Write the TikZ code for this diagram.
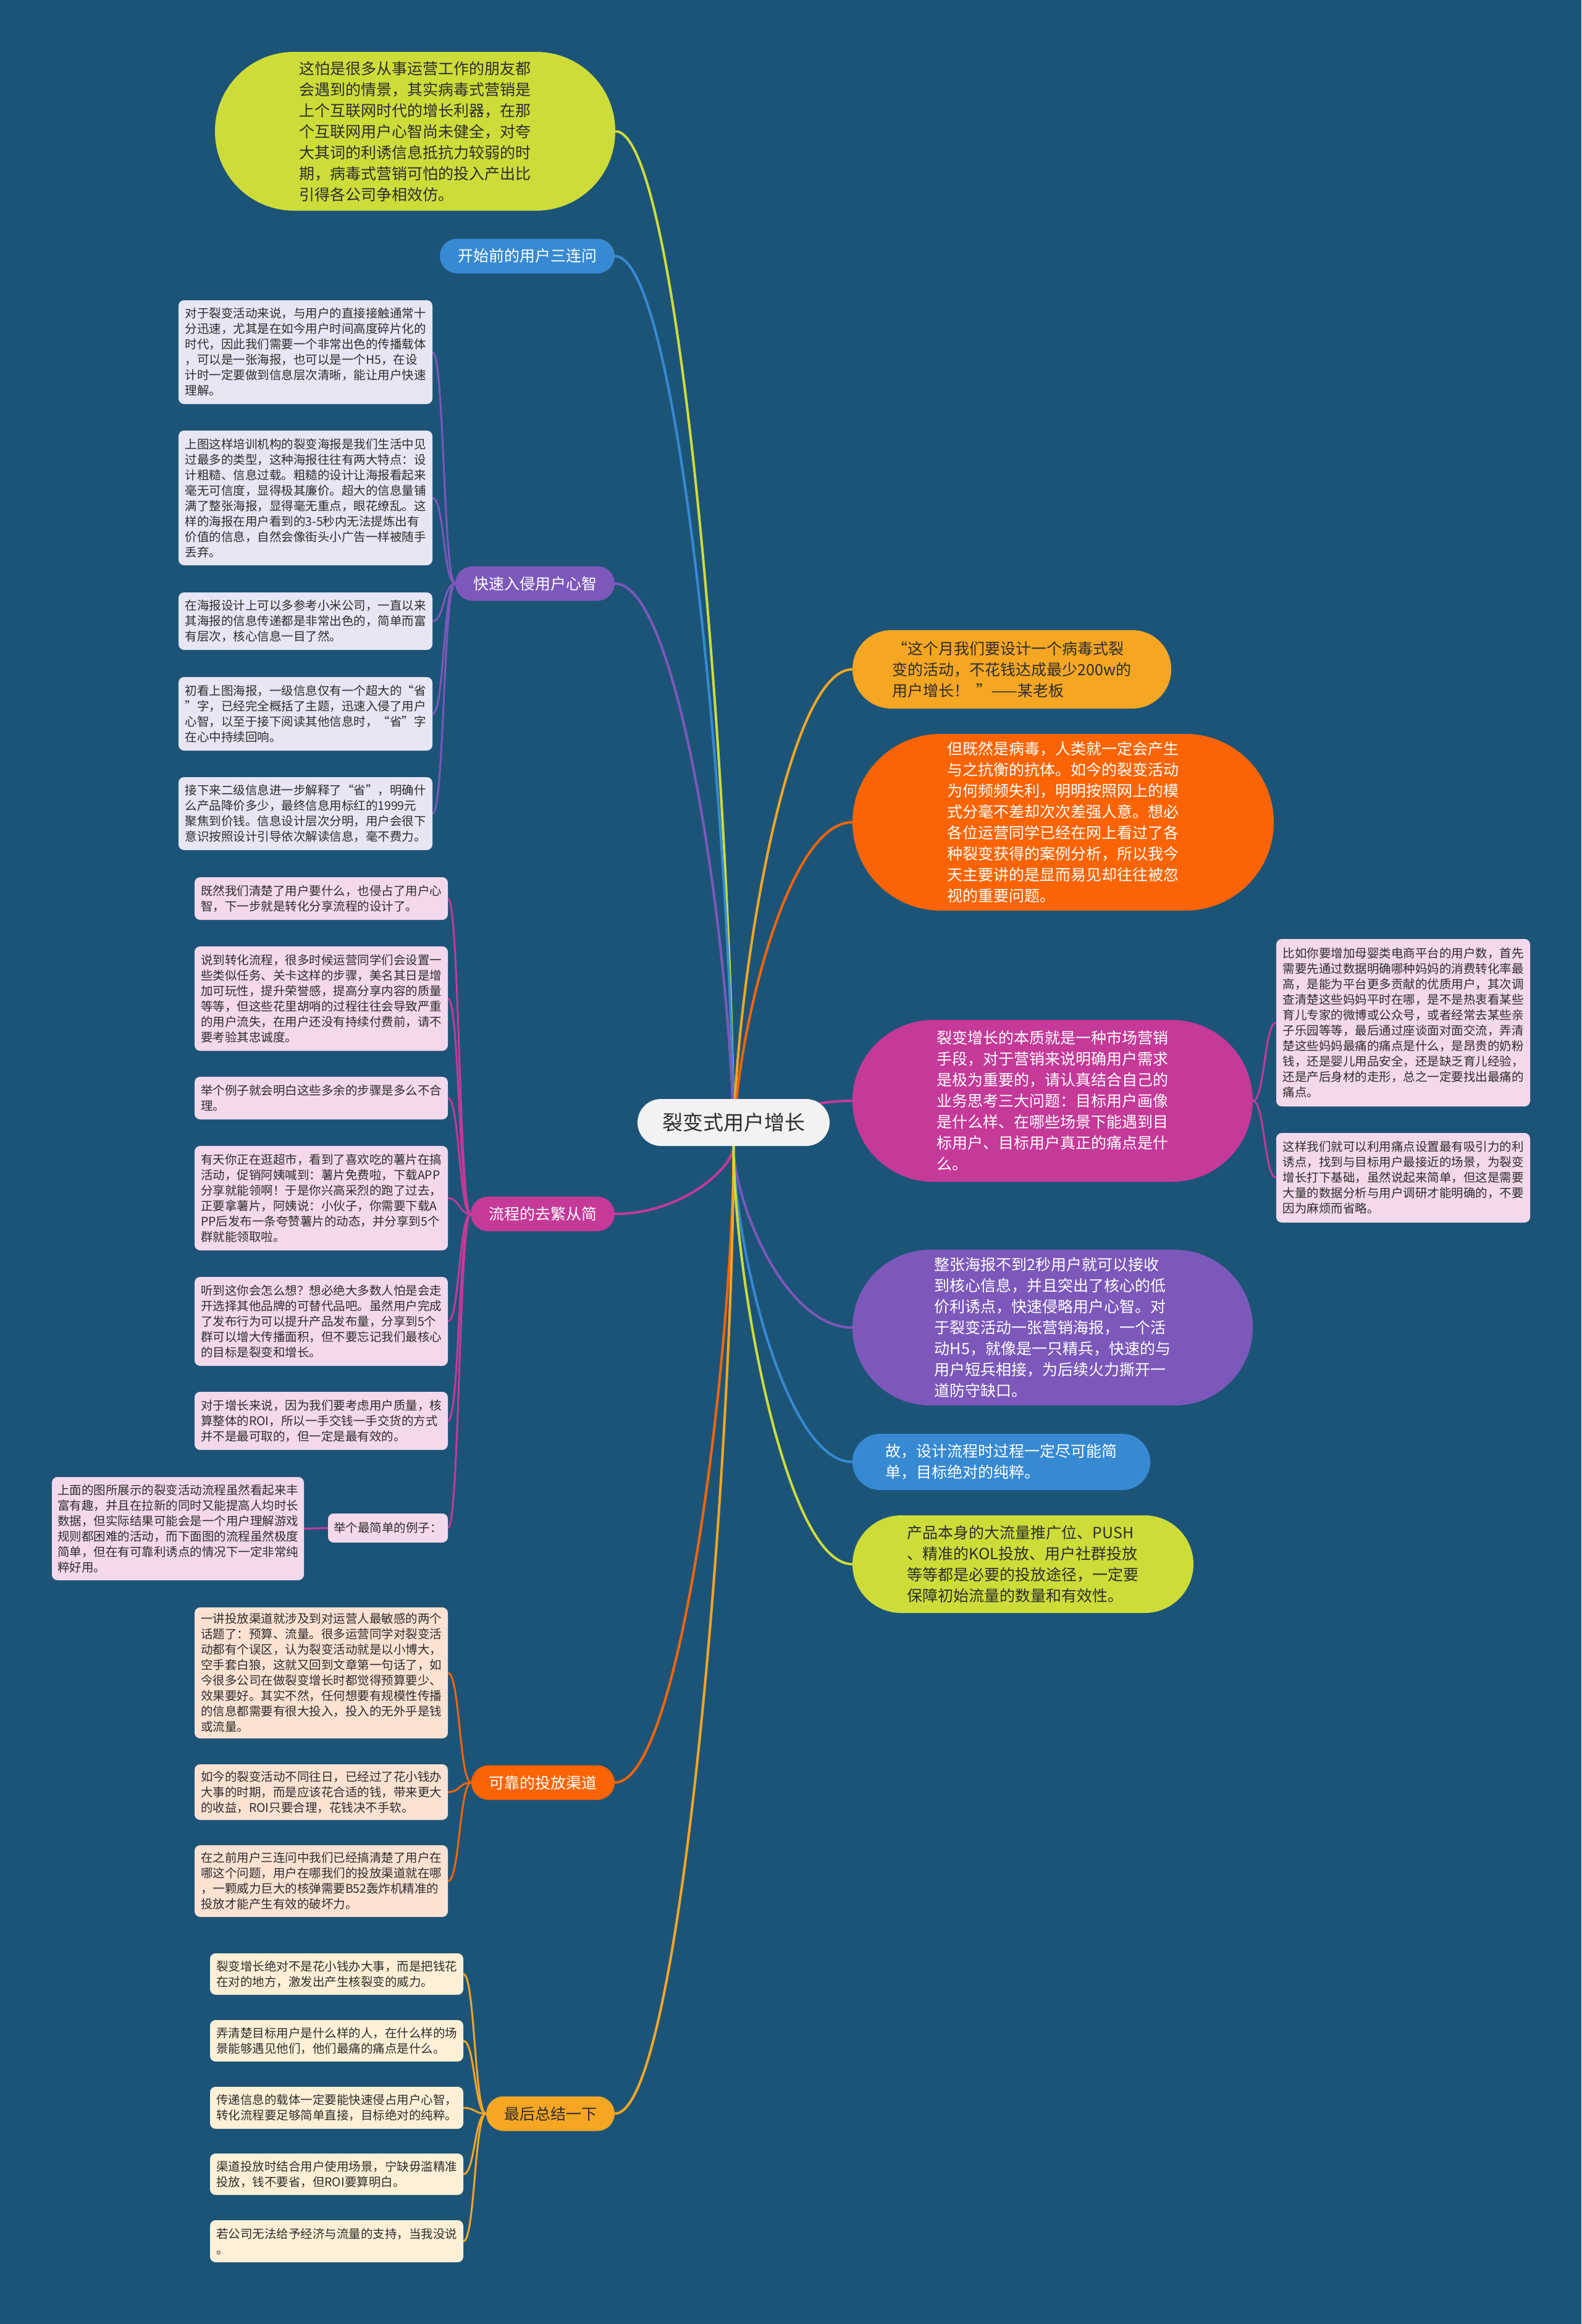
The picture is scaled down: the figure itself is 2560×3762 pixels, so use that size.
\documentclass[tikz,border=0pt]{standalone}
\usepackage{fontspec}
\setmainfont{Noto Sans CJK SC}
\pgfdeclarelayer{edges}
\pgfsetlayers{edges,main}
\definecolor{bgc}{RGB}{28,84,120}
\definecolor{txt}{RGB}{45,45,45}
\definecolor{rootc}{RGB}{242,242,242}
\definecolor{cLime}{RGB}{206,220,58}
\definecolor{cBlue}{RGB}{55,138,210}
\definecolor{cPurple}{RGB}{124,88,186}
\definecolor{cMagenta}{RGB}{197,57,152}
\definecolor{cOrange}{RGB}{250,100,5}
\definecolor{cGold}{RGB}{245,166,35}
\definecolor{fLav}{RGB}{232,229,244}
\definecolor{fPink}{RGB}{244,216,236}
\definecolor{fPeach}{RGB}{252,226,210}
\definecolor{fCream}{RGB}{254,240,214}
\newcommand{\setfs}[2]{\fontsize{#1}{#2}\selectfont}
\tikzset{
  leaf/.style={rectangle, rounded corners=9pt, inner sep=0pt, align=left, text=txt, font=\setfs{19.5}{25}},
  pill/.style={rectangle, rounded corners=28pt, inner sep=0pt, minimum height=56pt, text=white, font=\setfs{25}{30}},
  bub/.style={rectangle, inner sep=0pt, align=left, font=\setfs{25}{34}},
  mainline/.style={line width=4pt},
  subline/.style={line width=3pt},
}
\begin{document}
\begin{tikzpicture}[x=1pt,y=-1pt]
\useasboundingbox (0,0) rectangle (2560,3762);

% ---------- root ----------
\node[rectangle, rounded corners=38pt, fill=rootc, minimum width=311pt, minimum height=76pt, inner sep=0pt, text=txt, font=\setfs{33}{40}] (root) at (1187.5,1817) {裂变式用户增长};

% ---------- left main nodes ----------
\node[bub, fill=cLime, text=txt, rounded corners=128pt, minimum width=648pt, minimum height=257pt] (intro) at (672,212.5) {这怕是很多从事运营工作的朋友都\\会遇到的情景，其实病毒式营销是\\上个互联网时代的增长利器，在那\\个互联网用户心智尚未健全，对夸\\大其词的利诱信息抵抗力较弱的时\\期，病毒式营销可怕的投入产出比\\引得各公司争相效仿。};

\node[pill, fill=cBlue, minimum width=283pt] (q3) at (853.5,414.5) {开始前的用户三连问};
\node[pill, fill=cPurple, minimum width=258pt] (mind) at (866,944.5) {快速入侵用户心智};
\node[pill, fill=cMagenta, minimum width=233pt] (flow) at (878.5,1965) {流程的去繁从简};
\node[pill, fill=cOrange, minimum width=232pt] (chan) at (879,2885.5) {可靠的投放渠道};
\node[pill, fill=cGold, text=txt, minimum width=208pt] (sum) at (891,3421.5) {最后总结一下};

% ---------- 快速入侵用户心智 children ----------
\node[leaf, fill=fLav, minimum width=411pt, minimum height=168pt] (m1) at (494.5,570) {对于裂变活动来说，与用户的直接接触通常十\\分迅速，尤其是在如今用户时间高度碎片化的\\时代，因此我们需要一个非常出色的传播载体\\，可以是一张海报，也可以是一个H5，在设\\计时一定要做到信息层次清晰，能让用户快速\\理解。};
\node[leaf, fill=fLav, minimum width=411pt, minimum height=218pt] (m2) at (494.5,806) {上图这样培训机构的裂变海报是我们生活中见\\过最多的类型，这种海报往往有两大特点：设\\计粗糙、信息过载。粗糙的设计让海报看起来\\毫无可信度，显得极其廉价。超大的信息量铺\\满了整张海报，显得毫无重点，眼花缭乱。这\\样的海报在用户看到的3-5秒内无法提炼出有\\价值的信息，自然会像街头小广告一样被随手\\丢弃。};
\node[leaf, fill=fLav, minimum width=411pt, minimum height=93pt] (m3) at (494.5,1005.5) {在海报设计上可以多参考小米公司，一直以来\\其海报的信息传递都是非常出色的，简单而富\\有层次，核心信息一目了然。};
\node[leaf, fill=fLav, minimum width=411pt, minimum height=119pt] (m4) at (494.5,1155.5) {初看上图海报，一级信息仅有一个超大的“省\\”字，已经完全概括了主题，迅速入侵了用户\\心智，以至于接下阅读其他信息时，“省”字\\在心中持续回响。};
\node[leaf, fill=fLav, minimum width=411pt, minimum height=118pt] (m5) at (494.5,1317) {接下来二级信息进一步解释了“省”，明确什\\么产品降价多少，最终信息用标红的1999元\\聚焦到价钱。信息设计层次分明，用户会很下\\意识按照设计引导依次解读信息，毫不费力。};

% ---------- 流程的去繁从简 children ----------
\node[leaf, fill=fPink, minimum width=410pt, minimum height=69pt] (f1) at (520,1454.5) {既然我们清楚了用户要什么，也侵占了用户心\\智，下一步就是转化分享流程的设计了。};
\node[leaf, fill=fPink, minimum width=410pt, minimum height=169pt] (f2) at (520,1616.5) {说到转化流程，很多时候运营同学们会设置一\\些类似任务、关卡这样的步骤，美名其日是增\\加可玩性，提升荣誉感，提高分享内容的质量\\等等，但这些花里胡哨的过程往往会导致严重\\的用户流失，在用户还没有持续付费前，请不\\要考验其忠诚度。};
\node[leaf, fill=fPink, minimum width=410pt, minimum height=69pt] (f3) at (520,1777.5) {举个例子就会明白这些多余的步骤是多么不合\\理。};
\node[leaf, fill=fPink, minimum width=410pt, minimum height=169pt] (f4) at (520,1939.5) {有天你正在逛超市，看到了喜欢吃的薯片在搞\\活动，促销阿姨喊到：薯片免费啦，下载APP\\分享就能领啊！于是你兴高采烈的跑了过去，\\正要拿薯片，阿姨说：小伙子，你需要下载A\\PP后发布一条夸赞薯片的动态，并分享到5个\\群就能领取啦。};
\node[leaf, fill=fPink, minimum width=410pt, minimum height=144pt] (f5) at (520,2139) {听到这你会怎么想？想必绝大多数人怕是会走\\开选择其他品牌的可替代品吧。虽然用户完成\\了发布行为可以提升产品发布量，分享到5个\\群可以增大传播面积，但不要忘记我们最核心\\的目标是裂变和增长。};
\node[leaf, fill=fPink, minimum width=410pt, minimum height=94pt] (f6) at (520,2300) {对于增长来说，因为我们要考虑用户质量，核\\算整体的ROI，所以一手交钱一手交货的方式\\并不是最可取的，但一定是最有效的。};
\node[leaf, fill=fPink, minimum width=194pt, minimum height=47pt] (f7) at (628,2473.5) {举个最简单的例子：};
\node[leaf, fill=fPink, minimum width=408pt, minimum height=167pt] (f8) at (288,2474.5) {上面的图所展示的裂变活动流程虽然看起来丰\\富有趣，并且在拉新的同时又能提高人均时长\\数据，但实际结果可能会是一个用户理解游戏\\规则都困难的活动，而下面图的流程虽然极度\\简单，但在有可靠利诱点的情况下一定非常纯\\粹好用。};

% ---------- 可靠的投放渠道 children ----------
\node[leaf, fill=fPeach, minimum width=410pt, minimum height=212pt] (c1) at (520,2708) {一讲投放渠道就涉及到对运营人最敏感的两个\\话题了：预算、流量。很多运营同学对裂变活\\动都有个误区，认为裂变活动就是以小博大，\\空手套白狼，这就又回到文章第一句话了，如\\今很多公司在做裂变增长时都觉得预算要少、\\效果要好。其实不然，任何想要有规模性传播\\的信息都需要有很大投入，投入的无外乎是钱\\或流量。};
\node[leaf, fill=fPeach, minimum width=410pt, minimum height=90pt] (c2) at (520,2901) {如今的裂变活动不同往日，已经过了花小钱办\\大事的时期，而是应该花合适的钱，带来更大\\的收益，ROI只要合理，花钱决不手软。};
\node[leaf, fill=fPeach, minimum width=410pt, minimum height=116pt] (c3) at (520,3045) {在之前用户三连问中我们已经搞清楚了用户在\\哪这个问题，用户在哪我们的投放渠道就在哪\\，一颗威力巨大的核弹需要B52轰炸机精准的\\投放才能产生有效的破坏力。};

% ---------- 最后总结一下 children ----------
\node[leaf, fill=fCream, minimum width=410pt, minimum height=67pt] (s1) at (545,3195.5) {裂变增长绝对不是花小钱办大事，而是把钱花\\在对的地方，激发出产生核裂变的威力。};
\node[leaf, fill=fCream, minimum width=410pt, minimum height=67pt] (s2) at (545,3303.5) {弄清楚目标用户是什么样的人，在什么样的场\\景能够遇见他们，他们最痛的痛点是什么。};
\node[leaf, fill=fCream, minimum width=410pt, minimum height=68pt] (s3) at (545,3412) {传递信息的载体一定要能快速侵占用户心智，\\转化流程要足够简单直接，目标绝对的纯粹。};
\node[leaf, fill=fCream, minimum width=410pt, minimum height=67pt] (s4) at (545,3519.5) {渠道投放时结合用户使用场景，宁缺毋滥精准\\投放，钱不要省，但ROI要算明白。};
\node[leaf, fill=fCream, minimum width=410pt, minimum height=68pt] (s5) at (545,3628) {若公司无法给予经济与流量的支持，当我没说\\。};

% ---------- right main nodes ----------
\node[bub, fill=cGold, text=txt, rounded corners=63pt, minimum width=516pt, minimum height=127pt] (boss) at (1638,1083.5) {“这个月我们要设计一个病毒式裂\\变的活动，不花钱达成最少200w的\\用户增长！\ \ ”——某老板};
\node[bub, fill=cOrange, text=white, rounded corners=143pt, minimum width=682pt, minimum height=286pt] (virus) at (1721,1331) {但既然是病毒，人类就一定会产生\\与之抗衡的抗体。如今的裂变活动\\为何频频失利，明明按照网上的模\\式分毫不差却次次差强人意。想必\\各位运营同学已经在网上看过了各\\种裂变获得的案例分析，所以我今\\天主要讲的是显而易见却往往被忽\\视的重要问题。};
\node[bub, fill=cMagenta, text=white, rounded corners=131pt, minimum width=648pt, minimum height=262pt] (ess) at (1704,1782) {裂变增长的本质就是一种市场营销\\手段，对于营销来说明确用户需求\\是极为重要的，请认真结合自己的\\业务思考三大问题：目标用户画像\\是什么样、在哪些场景下能遇到目\\标用户、目标用户真正的痛点是什\\么。};
\node[bub, fill=cPurple, text=white, rounded corners=126pt, minimum width=648pt, minimum height=252pt] (poster) at (1704,2149) {整张海报不到2秒用户就可以接收\\到核心信息，并且突出了核心的低\\价利诱点，快速侵略用户心智。对\\于裂变活动一张营销海报，一个活\\动H5，就像是一只精兵，快速的与\\用户短兵相接，为后续火力撕开一\\道防守缺口。};
\node[bub, fill=cBlue, text=white, rounded corners=45pt, minimum width=482pt, minimum height=91pt] (simple) at (1621,2366.5) {故，设计流程时过程一定尽可能简\\单，目标绝对的纯粹。};
\node[bub, fill=cLime, text=txt, rounded corners=79pt, minimum width=552pt, minimum height=158pt] (traffic) at (1656,2532) {产品本身的大流量推广位、PUSH\\、精准的KOL投放、用户社群投放\\等等都是必要的投放途径，一定要\\保障初始流量的数量和有效性。};

% ---------- right magenta children ----------
\node[leaf, fill=fPink, minimum width=411pt, minimum height=271pt] (r1) at (2271.5,1655.5) {比如你要增加母婴类电商平台的用户数，首先\\需要先通过数据明确哪种妈妈的消费转化率最\\高，是能为平台更多贡献的优质用户，其次调\\查清楚这些妈妈平时在哪，是不是热衷看某些\\育儿专家的微博或公众号，或者经常去某些亲\\子乐园等等，最后通过座谈面对面交流，弄清\\楚这些妈妈最痛的痛点是什么，是昂贵的奶粉\\钱，还是婴儿用品安全，还是缺乏育儿经验，\\还是产后身材的走形，总之一定要找出最痛的\\痛点。};
\node[leaf, fill=fPink, minimum width=411pt, minimum height=145pt] (r2) at (2271.5,1906.5) {这样我们就可以利用痛点设置最有吸引力的利\\诱点，找到与目标用户最接近的场景，为裂变\\增长打下基础，虽然说起来简单，但这是需要\\大量的数据分析与用户调研才能明确的，不要\\因为麻烦而省略。};

% ---------- connectors ----------
\begin{pgfonlayer}{edges}
\fill[bgc] (0,0) rectangle (2560,3762);
% main branches
\draw[mainline, cLime]    (intro.east) .. controls +(110,0) and +(0,-492) .. (root.south);
\draw[mainline, cBlue]    (q3.east)    .. controls +(110,0) and +(0,-431) .. (root.south);
\draw[mainline, cPurple]  (mind.east)  .. controls +(110,0) and +(0,-272) .. (root.south);
\draw[mainline, cMagenta] (flow.east)  .. controls +(110,0) and +(0,34) .. (root.south);
\draw[mainline, cOrange]  (chan.east)  .. controls +(110,0) and +(0,310) .. (root.south);
\draw[mainline, cGold]    (sum.east)   .. controls +(110,0) and +(0,471) .. (root.south);
\draw[mainline, cGold]    (boss.west)    .. controls +(-110,0) and +(0,-231) .. (root.south);
\draw[mainline, cOrange]  (virus.west)   .. controls +(-110,0) and +(0,-156) .. (root.south);
\draw[mainline, cMagenta] (ess.west)     .. controls +(-110,0) and +(0,-21) .. (root.south);
\draw[mainline, cPurple]  (poster.west)  .. controls +(-110,0) and +(0,89) .. (root.south);
\draw[mainline, cBlue]    (simple.west)  .. controls +(-110,0) and +(0,154) .. (root.south);
\draw[mainline, cLime]    (traffic.west) .. controls +(-110,0) and +(0,204) .. (root.south);
% sub branches
\foreach \c in {m1,m2,m3,m4,m5}
  \draw[subline, cPurple] (mind.west) .. controls +(-19,0) and +(19,0) .. (\c.east);
\foreach \c in {f1,f2,f3,f4,f5,f6,f7}
  \draw[subline, cMagenta] (flow.west) .. controls +(-18.5,0) and +(18.5,0) .. (\c.east);
\draw[subline, cMagenta] (f7.west) .. controls +(-19.5,0) and +(19.5,0) .. (f8.east);
\foreach \c in {c1,c2,c3}
  \draw[subline, cOrange] (chan.west) .. controls +(-19,0) and +(19,0) .. (\c.east);
\foreach \c in {s1,s2,s3,s4,s5}
  \draw[subline, cGold] (sum.west) .. controls +(-18.5,0) and +(18.5,0) .. (\c.east);
\foreach \c in {r1,r2}
  \draw[subline, cMagenta] (ess.east) .. controls +(19,0) and +(-19,0) .. (\c.west);
\end{pgfonlayer}
\end{tikzpicture}
\end{document}
